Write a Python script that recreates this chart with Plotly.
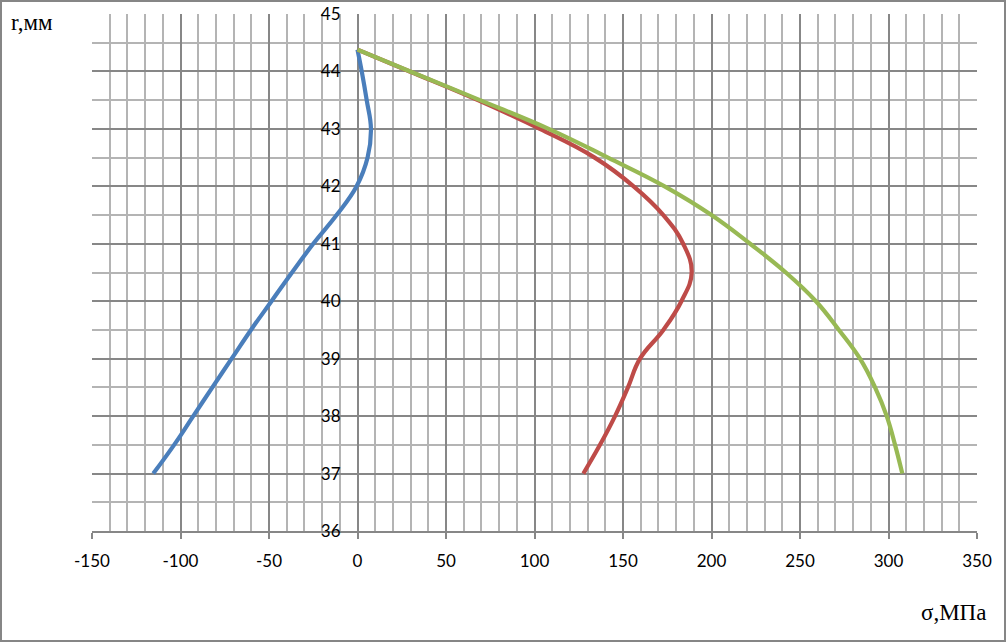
import plotly.graph_objects as go

# Data
r_blue = [44.38, 44.0, 43.5, 43.0, 42.5, 42.0, 41.5, 41.0, 40.5, 40.0, 39.5, 39.0, 38.5, 38.0, 37.5, 37.0]
s_blue = [0.0, 2.4, 5.2, 7.6, 5.7, -0.5, -11.8, -25.0, -37.0, -48.6, -60.2, -71.1, -82.0, -92.8, -103.6, -115.4]

r_red = [44.38, 44.0, 43.5, 43.0, 42.5, 42.0, 41.5, 41.0, 40.5, 40.0, 39.5, 39.0, 38.5, 38.0, 37.5, 37.0]
s_red = [0.0, 29.5, 68.0, 103.0, 134.0, 156.0, 172.8, 184.0, 188.8, 183.0, 172.8, 159.6, 152.8, 145.5, 137.0, 127.6]

r_green = [44.38, 44.0, 43.5, 43.0, 42.5, 42.0, 41.5, 41.0, 40.5, 40.0, 39.5, 39.0, 38.5, 38.0, 37.5, 37.0]
s_green = [0.0, 29.8, 69.2, 108.0, 141.5, 173.5, 200.0, 221.8, 242.0, 259.0, 272.0, 283.9, 292.4, 299.0, 303.7, 307.8]

x_ticks = [-150, -100, -50, 0, 50, 100, 150, 200, 250, 300, 350]
y_ticks = [36, 37, 38, 39, 40, 41, 42, 43, 44, 45]

W, H = 1006, 642
L, R, T, B = 92, 29, 14, 111
pw, ph = W - L - R, H - T - B

fig = go.Figure()
for s, r, c in [(s_blue, r_blue, "#4A7EBB"), (s_red, r_red, "#BE4B48"), (s_green, r_green, "#98B954")]:
    fig.add_trace(go.Scatter(x=s, y=r, mode="lines",
                             line=dict(color=c, width=4.2, shape="spline", smoothing=1.2),
                             showlegend=False, hoverinfo="skip"))

major = "#878787"
minor = "#B4B4B4"
tickfont = dict(family="Lato, Arial, sans-serif", size=17, color="#000000")
titlefont = dict(family="Liberation Serif, Times New Roman, serif", size=23, color="#000")

fig.update_layout(
    width=W, height=H,
    margin=dict(l=L, r=R, t=T, b=B, autoexpand=False),
    paper_bgcolor="white", plot_bgcolor="white",
    xaxis=dict(range=[-150, 350], tickvals=x_ticks, ticktext=[str(v) for v in x_ticks],
               showgrid=True, gridcolor=major, gridwidth=1.5,
               minor=dict(dtick=10, tick0=0, showgrid=True, gridcolor=minor, gridwidth=1.5),
               zeroline=False, showline=True, linecolor=major, linewidth=1.5,
               ticks="outside", ticklen=6, tickcolor=major, tickwidth=1.5,
               ticklabelstandoff=8, automargin=False,
               tickfont=tickfont, anchor="y"),
    yaxis=dict(range=[36, 45], tickvals=y_ticks, ticktext=[str(v) for v in y_ticks],
               showgrid=True, gridcolor=major, gridwidth=1.5,
               minor=dict(dtick=0.5, tick0=36, showgrid=True, gridcolor=minor, gridwidth=1.5),
               zeroline=False, showline=False, ticks="",
               anchor="free", position=0.3, ticklabelstandoff=17, automargin=False,
               tickfont=tickfont),
    annotations=[
        dict(text="r,мм", x=(9 - L) / pw, y=1 - (22 - T) / ph, xref="paper", yref="paper",
             xanchor="left", yanchor="middle", showarrow=False, font=titlefont),
        dict(text="σ,МПа", x=(988 - L) / pw, y=1 - (612 - T) / ph, xref="paper", yref="paper",
             xanchor="right", yanchor="middle", showarrow=False, font=titlefont),
    ],
    shapes=[
        dict(type="rect", xref="paper", yref="paper",
             x0=(1 - L) / pw, x1=(W - 1 - L) / pw,
             y0=1 - (H - 1 - T) / ph, y1=1 - (1 - T) / ph,
             line=dict(color="#868686", width=2), fillcolor="rgba(0,0,0,0)", layer="above"),
    ],
)

fig.write_html("out.html", config={"displayModeBar": False},
               post_script="document.body.style.margin='0';document.body.style.overflow='hidden';")
